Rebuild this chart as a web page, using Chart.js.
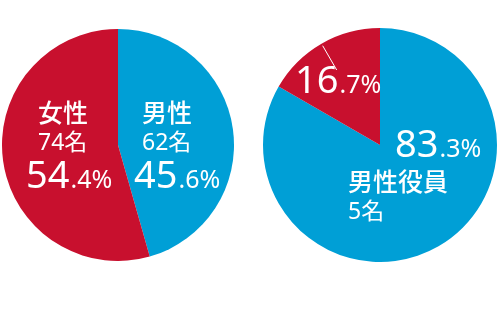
<!DOCTYPE html>
<html>
<head>
<meta charset="utf-8">
<script src="https://cdn.jsdelivr.net/npm/chart.js@4.4.1/dist/chart.umd.min.js"></script>
<style>
  body { margin: 0; background: #fff; width: 502px; height: 322px; position: relative; overflow: hidden; }
  .box { position: absolute; }
</style>
</head>
<body>
<div class="box" style="left:2px;top:29px;width:232px;height:232px"><canvas id="staffPie"></canvas></div>
<div class="box" style="left:263px;top:28px;width:234px;height:234px"><canvas id="boardPie"></canvas></div>
<script>
// data
var staffLabels = ['男性', '女性'];
var staffCounts = [62, 74];
var boardLabels = ['男性役員', '女性役員'];
var boardCounts = [5, 1];
var sliceColors = ['#009fd6', '#c8102e'];

function pct(values, i) {
  var sum = values.reduce(function (a, b) { return a + b; }, 0);
  var s = (values[i] / sum * 100).toFixed(1).split('.');
  return [s[0], '.' + s[1] + '%'];
}

// draws the white text inside the slices, offsets are from the pie centre
var sliceText = {
  id: 'sliceText',
  afterDraw: function (chart, args, opts) {
    var c = chart.ctx;
    var arc = chart.getDatasetMeta(0).data[0];
    var cx = arc.x, cy = arc.y, r = arc.outerRadius;
    var values = chart.data.datasets[0].data;
    var names = chart.data.labels;
    c.save();
    c.fillStyle = '#fff';
    c.textAlign = 'left';
    (opts.items || []).forEach(function (it) {
      if (it.name) {
        c.font = '500 25px "Noto Sans CJK JP"';
        c.textBaseline = 'middle';
        c.fillText(names[it.slice], cx + it.name[0], cy + it.name[1]);
      }
      if (it.count) {
        c.font = '400 23px "Noto Sans", "Noto Sans CJK JP"';
        c.textBaseline = 'middle';
        c.fillText(values[it.slice] + '名', cx + it.count[0], cy + it.count[1]);
      }
      if (it.pct) {
        var p = pct(values, it.slice);
        var x = cx + it.pct[0], y = cy + it.pct[1];
        c.textBaseline = 'alphabetic';
        c.font = '400 38px "Noto Sans"';
        c.fillText(p[0], x, y);
        var w = c.measureText(p[0]).width;
        c.font = '400 25px "Noto Sans"';
        c.fillText(p[1], x + w + 1, y);
      }
      if (it.leader) {
        var el = chart.getDatasetMeta(0).data[it.slice];
        var a = (el.startAngle + el.endAngle) / 2;
        c.strokeStyle = '#fff';
        c.lineWidth = 1;
        c.beginPath();
        c.moveTo(cx + Math.cos(a) * r * 0.98, cy + Math.sin(a) * r * 0.98);
        c.lineTo(cx + Math.cos(a) * r * 0.74, cy + Math.sin(a) * r * 0.74);
        c.stroke();
      }
    });
    c.restore();
  }
};

function makePie(id, labels, values, items) {
  return new Chart(document.getElementById(id), {
    type: 'pie',
    data: {
      labels: labels,
      datasets: [{
        data: values,
        backgroundColor: sliceColors,
        borderWidth: 0
      }]
    },
    options: {
      responsive: true,
      maintainAspectRatio: false,
      animation: false,
      layout: { padding: 0 },
      plugins: {
        legend: { display: false },
        tooltip: { enabled: false },
        sliceText: { items: items }
      }
    },
    plugins: [sliceText]
  });
}

makePie('staffPie', staffLabels, staffCounts, [
  { slice: 0, name: [24, -33], count: [24, -2], pct: [16, 43] },
  { slice: 1, name: [-80, -33], count: [-80, -2], pct: [-92, 43] }
]);

makePie('boardPie', boardLabels, boardCounts, [
  { slice: 0, name: [-32, 36], count: [-32, 67], pct: [15, 12] },
  { slice: 1, pct: [-85, -52], leader: true }
]);
</script>
</body>
</html>
